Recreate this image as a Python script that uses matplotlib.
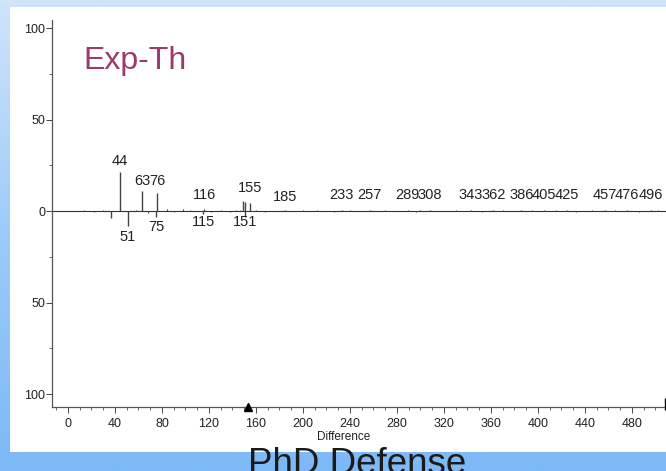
import matplotlib.pyplot as plt
import numpy as np
from matplotlib.colors import LinearSegmentedColormap
from matplotlib.patches import Rectangle

plt.rcParams["font.family"] = ["Liberation Sans", "DejaVu Sans"]

# experimental peaks (pointing up)
exp_mz = [44, 63, 76, 116, 149, 151, 155, 185, 233, 257, 289, 308,
          343, 362, 386, 405, 425, 457, 476, 496]
exp_int = [21.3, 10.9, 9.8, 1.2, 5.5, 5.0, 4.2, 0.8, 0.8, 0.8, 0.8, 0.8,
           0.8, 0.8, 0.8, 0.8, 0.8, 0.8, 0.8, 0.8]

# theoretical peaks (pointing down)
th_mz = [37, 51, 75, 115, 151]
th_int = [3.7, 8.4, 3.3, 1.5, 3.0]

# small baseline noise
noise_mz = [14, 22, 30, 58, 68, 84, 90, 98, 104, 122, 130, 138, 143, 146,
            160, 168, 200, 212, 226, 240, 270, 296, 300, 330, 352, 370,
            395, 415, 432, 446, 466, 486, 502]
noise_int = [0.5, -0.4, 0.5, 0.8, -1.2, 1.0, -0.8, 0.9, 0.6, -0.6, 0.7,
             -0.5, 0.6, 0.8, 0.5, -0.5, 0.4, 0.5, -0.4, 0.5, 0.4, -0.6,
             0.5, 0.4, -0.5, 0.5, 0.4, 0.5, -0.5, 0.4, 0.5, -0.4, 0.5]

# peak annotations
up_labels = ["44", "63", "76", "116", "155", "185", "233", "257", "289",
             "308", "343", "362", "386", "405", "425", "457", "476", "496"]
up_label_y = [27.5, 16.5, 16.5, 8.5, 12.5, 7.5, 8.5, 8.5, 8.5, 8.5, 8.5,
              8.5, 8.5, 8.5, 8.5, 8.5, 8.5, 8.5]
down_labels = ["51", "75", "115", "151"]
down_label_y = [-14, -9, -6, -6]

x_ticks = [0, 40, 80, 120, 160, 200, 240, 280, 320, 360, 400, 440, 480]
y_ticks = [-100, -50, 0, 50, 100]
y_tick_labels = ["100", "50", "0", "50", "100"]


def main():
    fig = plt.figure(figsize=(6.66, 4.71), dpi=100)

    # slide background: blue gradient with a white panel
    bg = fig.add_axes([0, 0, 1, 1], zorder=-2)
    cmap = LinearSegmentedColormap.from_list("slide", ["#d0e4fb", "#9ccbf9", "#7cb9f6"])
    bg.imshow(np.linspace(0, 1, 256).reshape(-1, 1), aspect="auto", cmap=cmap,
              extent=[0, 1, 0, 1], origin="upper")
    bg.add_patch(Rectangle((10 / 666, 19 / 471), 1, (452 - 7) / 471,
                           facecolor="white", edgecolor="none"))
    bg.set_xlim(0, 1)
    bg.set_ylim(0, 1)
    bg.axis("off")

    ax = fig.add_axes([52 / 666, 64 / 471, 1 - 52 / 666, (407 - 20) / 471])
    ax.set_facecolor("none")

    ax.axhline(0, color="#333333", lw=0.8, zorder=1)
    ax.vlines(noise_mz, 0, noise_int, color="#444444", lw=0.8)
    ax.vlines(exp_mz, 0, exp_int, color="#444444", lw=1.0)
    ax.vlines(th_mz, 0, [-v for v in th_int], color="#444444", lw=1.0)

    for txt, y in zip(up_labels, up_label_y):
        ax.text(int(txt), y, txt, ha="center", va="center", fontsize=10.5,
                color="#222222")
    for txt, y in zip(down_labels, down_label_y):
        ax.text(int(txt), y, txt, ha="center", va="center", fontsize=10.5,
                color="#222222")

    ax.set_xlim(-13.6, 509)
    ax.set_ylim(-107.1, 104.4)

    ax.spines["top"].set_visible(False)
    ax.spines["right"].set_visible(False)
    for side in ["left", "bottom"]:
        ax.spines[side].set_color("#555555")
        ax.spines[side].set_linewidth(0.9)

    ax.set_xticks(x_ticks)
    ax.set_xticks(np.arange(-10, 510, 10), minor=True)
    ax.set_yticks(y_ticks)
    ax.set_yticklabels(y_tick_labels)
    ax.set_yticks([-75, -25, 25, 75], minor=True)
    ax.tick_params(axis="both", which="major", length=4, width=0.7,
                   colors="#444444", labelsize=9, labelcolor="#222222", pad=3)
    ax.tick_params(axis="x", which="major", pad=4)
    ax.tick_params(axis="y", which="major", pad=1)
    ax.tick_params(axis="both", which="minor", length=2.5, width=0.6,
                   colors="#555555")
    ax.set_xlabel("Difference", fontsize=8.5, color="#222222", va="center")
    ax.xaxis.set_label_coords(0.4756, -0.077)

    # precursor marker and axis end
    ax.plot([153], [-107.1], marker="^", color="black", markersize=6,
            clip_on=False, zorder=5)
    ax.plot([508], [-105.5], marker="|", color="black", markersize=8,
            clip_on=False, zorder=5)

    ax.text(13, 82, "Exp-Th", fontsize=23, color="#9b3a6b",
            ha="left", va="center")

    fig.text(357 / 666, -3 / 471, "PhD Defense", fontsize=26.5, color="#1a1a1a",
             ha="center", va="baseline")

    fig.savefig("out.png", dpi=100)


if __name__ == "__main__":
    main()
